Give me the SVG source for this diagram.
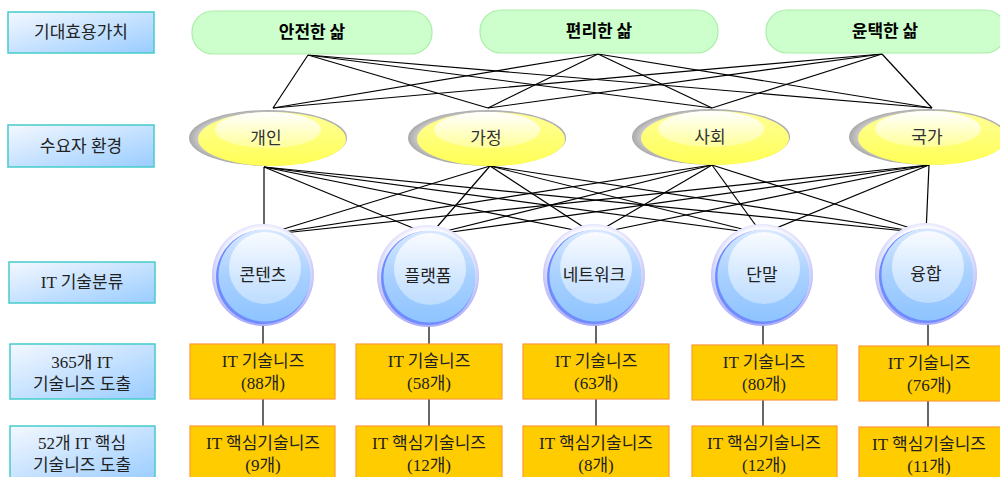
<svg xmlns="http://www.w3.org/2000/svg" width="1000" height="477" viewBox="0 0 1000 477">
<style>
.lab{fill:url(#labG);stroke:#44CCCC;stroke-width:1.5}
.labt{font-family:"Liberation Serif","Noto Sans CJK KR",serif;font-size:17px;fill:#222;text-anchor:middle}
.pill{fill:#CCFFCC;stroke:#A8EEA8;stroke-width:1.2}
.pillt{font-family:"Noto Sans CJK KR",sans-serif;font-size:17px;font-weight:bold;fill:#000;text-anchor:middle}
.ellt{font-family:"Noto Sans CJK KR",sans-serif;font-size:17px;fill:#333;text-anchor:middle}
.sph{font-family:"Noto Sans CJK KR",sans-serif;font-size:17px;fill:#222;text-anchor:middle}
.box{fill:#FFCC00;stroke:#FF9933;stroke-width:1.2}
.boxt{font-family:"Liberation Serif","Noto Sans CJK KR",serif;font-size:17px;fill:#222;text-anchor:middle}
.con line{stroke:#000;stroke-width:1.2}
</style>
<defs>
<linearGradient id="labG" x1="0" y1="0" x2="1" y2="1">
<stop offset="0" stop-color="#F4F8FF"/><stop offset="1" stop-color="#99CCFF"/>
</linearGradient>
<radialGradient id="shadowG" cx="0.5" cy="0.5" r="0.5">
<stop offset="0.75" stop-color="#F2F2F2"/><stop offset="1" stop-color="#A8A8A8"/>
</radialGradient>
<linearGradient id="yelG" x1="0" y1="0" x2="0" y2="1">
<stop offset="0" stop-color="#FFFF99"/><stop offset="1" stop-color="#FFFF55"/>
</linearGradient>
<linearGradient id="yhlG" x1="0" y1="0" x2="0" y2="1">
<stop offset="0" stop-color="#FFFFFF"/><stop offset="1" stop-color="#FFFF99"/>
</linearGradient>
<radialGradient id="haloG" cx="0.5" cy="0.45" r="0.55">
<stop offset="0.75" stop-color="#FAFAFF"/><stop offset="1" stop-color="#A8A8F8"/>
</radialGradient>
<linearGradient id="bodyG" x1="0" y1="0" x2="0" y2="1">
<stop offset="0" stop-color="#D8E8FF"/><stop offset="0.5" stop-color="#A8D0FF"/><stop offset="1" stop-color="#8EC4FF"/>
</linearGradient>
<linearGradient id="bhlG" x1="0" y1="0" x2="0" y2="1">
<stop offset="0" stop-color="#FFFFFF"/><stop offset="1" stop-color="#C4E0FF"/>
</linearGradient>
<g id="ellShape">
<ellipse cx="0" cy="0" rx="79" ry="28" fill="url(#shadowG)"/>
<ellipse cx="4" cy="1" rx="74" ry="27" fill="url(#yelG)"/>
<ellipse cx="0" cy="-8" rx="53" ry="18" fill="url(#yhlG)"/>
</g>
<g id="sphShape">
<circle cx="0" cy="0" r="51" fill="url(#haloG)"/>
<circle cx="0" cy="2" r="47" fill="#6F8CFF"/>
<circle cx="1.5" cy="0.5" r="46" fill="url(#bodyG)"/>
<circle cx="2" cy="-7" r="36" fill="url(#bhlG)" opacity="0.85"/>
</g>
</defs>
<rect width="1000" height="477" fill="#FFFFFF"/>

<g id="connectors" class="con">
<line x1="308" y1="55" x2="273" y2="108"/><line x1="308" y1="55" x2="488" y2="108"/><line x1="308" y1="55" x2="712" y2="108"/><line x1="308" y1="55" x2="932" y2="108"/>
<line x1="598" y1="54" x2="273" y2="108"/><line x1="598" y1="54" x2="488" y2="108"/><line x1="598" y1="54" x2="712" y2="108"/><line x1="598" y1="54" x2="932" y2="108"/>
<line x1="882" y1="54" x2="273" y2="108"/><line x1="882" y1="54" x2="488" y2="108"/><line x1="882" y1="54" x2="712" y2="108"/><line x1="882" y1="54" x2="932" y2="108"/>
<line x1="264" y1="167" x2="264" y2="235"/><line x1="264" y1="167" x2="430" y2="235"/><line x1="264" y1="167" x2="594" y2="234"/><line x1="264" y1="167" x2="762" y2="234"/><line x1="264" y1="167" x2="926" y2="233"/>
<line x1="490" y1="166" x2="264" y2="235"/><line x1="490" y1="166" x2="430" y2="235"/><line x1="490" y1="166" x2="594" y2="234"/><line x1="490" y1="166" x2="762" y2="234"/><line x1="490" y1="166" x2="926" y2="233"/>
<line x1="712" y1="165" x2="264" y2="235"/><line x1="712" y1="165" x2="430" y2="235"/><line x1="712" y1="165" x2="594" y2="234"/><line x1="712" y1="165" x2="762" y2="234"/><line x1="712" y1="165" x2="926" y2="233"/>
<line x1="929" y1="165" x2="264" y2="235"/><line x1="929" y1="165" x2="430" y2="235"/><line x1="929" y1="165" x2="594" y2="234"/><line x1="929" y1="165" x2="762" y2="234"/><line x1="929" y1="165" x2="926" y2="233"/>
<line x1="263" y1="323" x2="263" y2="344"/><line x1="429" y1="323" x2="429" y2="344"/><line x1="596" y1="323" x2="596" y2="344"/><line x1="763" y1="323" x2="763" y2="345"/><line x1="928" y1="323" x2="928" y2="346"/>
<line x1="263" y1="399" x2="263" y2="426"/><line x1="429" y1="399" x2="429" y2="426"/><line x1="596" y1="399" x2="596" y2="426"/><line x1="763" y1="400" x2="763" y2="426"/><line x1="928" y1="401" x2="928" y2="427"/>
</g>

<g id="label-value"><rect class="lab" x="8" y="12" width="146" height="41"/><text class="labt" x="81" y="38">기대효용가치</text></g>
<g id="label-env"><rect class="lab" x="8" y="125" width="146" height="42"/><text class="labt" x="81" y="152">수요자 환경</text></g>
<g id="label-class"><rect class="lab" x="9" y="262" width="146" height="41"/><text class="labt" x="82" y="288">IT 기술분류</text></g>
<g id="label-needs"><rect class="lab" x="10" y="344" width="145" height="55"/><text class="labt" x="82" y="368">365개 IT</text><text class="labt" x="82" y="390">기술니즈 도출</text></g>
<g id="label-core"><rect class="lab" x="10" y="426" width="145" height="56"/><text class="labt" x="82" y="449">52개 IT 핵심</text><text class="labt" x="82" y="471">기술니즈 도출</text></g>

<g id="pill-safe"><rect class="pill" x="192" y="11" width="240" height="43" rx="21"/><text class="pillt" x="312" y="38">안전한 삶</text></g>
<g id="pill-conv"><rect class="pill" x="480" y="10" width="238" height="43" rx="21"/><text class="pillt" x="599" y="37">편리한 삶</text></g>
<g id="pill-rich"><rect class="pill" x="766" y="10" width="240" height="43" rx="21"/><text class="pillt" x="885" y="37">윤택한 삶</text></g>

<g id="ell-personal"><use href="#ellShape" x="268" y="138"/><text class="ellt" x="266" y="144">개인</text></g>
<g id="ell-home"><use href="#ellShape" x="487" y="138"/><text class="ellt" x="486" y="144">가정</text></g>
<g id="ell-society"><use href="#ellShape" x="711" y="137"/><text class="ellt" x="710" y="143">사회</text></g>
<g id="ell-nation"><use href="#ellShape" x="928" y="137"/><text class="ellt" x="927" y="143">국가</text></g>

<g id="sph-contents"><use href="#sphShape" x="263" y="275"/><text class="sph" x="263" y="281">콘텐츠</text></g>
<g id="sph-platform"><use href="#sphShape" x="428" y="276"/><text class="sph" x="428" y="282">플랫폼</text></g>
<g id="sph-network"><use href="#sphShape" x="594" y="275"/><text class="sph" x="594" y="281">네트워크</text></g>
<g id="sph-device"><use href="#sphShape" x="762" y="275"/><text class="sph" x="762" y="281">단말</text></g>
<g id="sph-fusion"><use href="#sphShape" x="926" y="274"/><text class="sph" x="926" y="280">융합</text></g>

<g id="need-1"><rect class="box" x="190" y="344" width="145" height="55"/><text class="boxt" x="263" y="367">IT 기술니즈</text><text class="boxt" x="263" y="389">(88개)</text></g>
<g id="need-2"><rect class="box" x="356" y="344" width="146" height="55"/><text class="boxt" x="429" y="367">IT 기술니즈</text><text class="boxt" x="429" y="389">(58개)</text></g>
<g id="need-3"><rect class="box" x="523" y="344" width="146" height="55"/><text class="boxt" x="596" y="367">IT 기술니즈</text><text class="boxt" x="596" y="389">(63개)</text></g>
<g id="need-4"><rect class="box" x="692" y="345" width="145" height="55"/><text class="boxt" x="764" y="368">IT 기술니즈</text><text class="boxt" x="764" y="390">(80개)</text></g>
<g id="need-5"><rect class="box" x="859" y="346" width="146" height="55"/><text class="boxt" x="929" y="369">IT 기술니즈</text><text class="boxt" x="929" y="391">(76개)</text></g>

<g id="core-1"><rect class="box" x="190" y="426" width="145" height="56"/><text class="boxt" x="263" y="449">IT 핵심기술니즈</text><text class="boxt" x="263" y="471">(9개)</text></g>
<g id="core-2"><rect class="box" x="356" y="426" width="146" height="56"/><text class="boxt" x="429" y="449">IT 핵심기술니즈</text><text class="boxt" x="429" y="471">(12개)</text></g>
<g id="core-3"><rect class="box" x="523" y="426" width="146" height="56"/><text class="boxt" x="596" y="449">IT 핵심기술니즈</text><text class="boxt" x="596" y="471">(8개)</text></g>
<g id="core-4"><rect class="box" x="692" y="426" width="145" height="56"/><text class="boxt" x="764" y="449">IT 핵심기술니즈</text><text class="boxt" x="764" y="471">(12개)</text></g>
<g id="core-5"><rect class="box" x="859" y="427" width="146" height="56"/><text class="boxt" x="929" y="450">IT 핵심기술니즈</text><text class="boxt" x="929" y="472">(11개)</text></g>
</svg>
